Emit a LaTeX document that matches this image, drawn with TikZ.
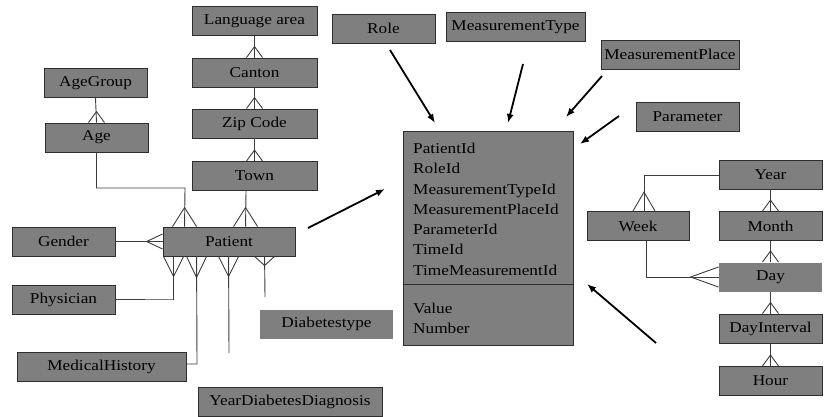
\documentclass[tikz,border=0pt]{standalone}
\usepackage{fontspec}
\setmainfont{Liberation Serif}[FakeStretch=1.15]
\usetikzlibrary{arrows.meta}
\definecolor{boxgrey}{HTML}{7F7F7F}
\definecolor{edgegrey}{HTML}{2E2E2E}
\definecolor{linkgrey}{HTML}{3C3C3C}
\tikzset{
  entity/.style={rectangle, fill=boxgrey, draw=edgegrey, line width=0.9pt,
    minimum height=29pt, inner sep=0pt, font=\fontsize{15}{18}\selectfont},
  bare/.style={entity, draw=none},
  field/.style={anchor=base west, inner sep=0pt, font=\fontsize{15}{18}\selectfont},
  link/.style={draw=linkgrey, line width=0.9pt},
  feed/.style={draw=black, line width=1.8pt, -{Latex[length=9pt,width=7pt]}},
}
\begin{document}
\begin{tikzpicture}[x=1pt,y=-1pt]
  \useasboundingbox (0,0) rectangle (829,417);
  % location and age dimensions
  \node[entity, minimum width=125pt] (lang) at (254.5,21) {Language area};
  \node[entity, minimum width=125pt] (canton) at (254.5,72.5) {Canton};
  \node[entity, minimum width=125pt] (zip) at (254.5,123.5) {Zip Code};
  \node[entity, minimum width=125pt] (town) at (254.5,176) {Town};
  \node[entity, minimum width=103pt] (agegroup) at (95.5,83) {AgeGroup};
  \node[entity, minimum width=103pt] (age) at (96.5,137.5) {Age};
  % patient dimension
  \node[entity, minimum width=132pt] (patient) at (229,241.5) {Patient};
  \node[entity, minimum width=103pt] (gender) at (63.5,241.5) {Gender};
  \node[entity, minimum width=103pt] (physician) at (63.5,300) {Physician};
  \node[entity, minimum width=169pt] (medhist) at (101.5,367) {MedicalHistory};
  \node[entity, minimum width=184pt] (yeardiag) at (290,401.5) {YearDiabetesDiagnosis};
  \node[bare, minimum width=133pt] (dtype) at (326.5,324) {Diabetestype};
  % measurement dimensions
  \node[entity, minimum width=103pt] (role) at (383.5,28.5) {Role};
  \node[entity, minimum width=139pt] (mtype) at (515.5,27) {MeasurementType};
  \node[entity, minimum width=138pt] (mplace) at (670,54.5) {MeasurementPlace};
  \node[entity, minimum width=103pt] (param) at (687.5,116.5) {Parameter};
  % fact table
  \node[entity, minimum width=170pt, minimum height=214pt] (fact) at (488,238) {};
  \draw[draw=edgegrey, line width=0.9pt] (fact.west |- 0,284) -- (fact.east |- 0,284);
  \foreach \f [count=\i] in {PatientId,RoleId,MeasurementTypeId,MeasurementPlaceId,ParameterId,TimeId,TimeMeasurementId}
    \node[field] (key\i) at (413,{153.5+20.25*(\i-1)}) {\f};
  \node[field] (value) at (413,313.5) {Value};
  \node[field] (number) at (413,333.5) {Number};
  % time dimension
  \node[entity, minimum width=103pt] (year) at (770.5,174.5) {Year};
  \node[entity, minimum width=103pt] (month) at (770.5,226) {Month};
  \node[bare, minimum width=103pt] (day) at (770.5,277) {Day};
  \node[entity, minimum width=103pt] (dayint) at (770.5,328.5) {DayInterval};
  \node[entity, minimum width=103pt] (hour) at (770.5,381) {Hour};
  \node[entity, minimum width=102pt] (week) at (638,226) {Week};

  % hierarchies with crow's feet
  \foreach \a/\b in {lang/canton, canton/zip, zip/town, agegroup/age, year/month, month/day, day/dayint, dayint/hour} {
    \draw[link] (\a.south) -- (\b.north);
    \draw[link] ([xshift=-8pt]\b.north) -- ([yshift=11pt]\b.north) -- ([xshift=8pt]\b.north);
  }
  \coordinate (agebend) at (185,188);
  \draw[link] (age.south) |- (agebend) -- ([xshift=22pt]patient.north west);
  \draw[link] ([xshift=-12pt,xshift=22pt]patient.north west) -- ([xshift=22pt,yshift=19pt]patient.north west)
    -- ([xshift=34pt]patient.north west);
  \draw[link] ([xshift=-8.5pt]town.south) -- ([xshift=83pt]patient.north west);
  \draw[link] ([xshift=71pt]patient.north west) -- ([xshift=83pt,yshift=19pt]patient.north west)
    -- ([xshift=95pt]patient.north west);
  \draw[link] (gender.east) -- (patient.west);
  \draw[link] ([yshift=7.5pt]patient.west) -- ([xshift=-16pt]patient.west) -- ([yshift=-7.5pt]patient.west);
  % patient attributes below
  \coordinate (physbend) at (174,299);
  \draw[link] ([xshift=11pt]patient.south west) |- (physbend) -- (physician.east |- physbend);
  \draw[link] ([xshift=1pt]patient.south west) -- ([xshift=11pt,yshift=-20pt]patient.south west)
    -- ([xshift=21pt]patient.south west);
  \coordinate (medbend) at (197,364);
  \draw[link] ([xshift=34pt]patient.south west) -- (medbend) -- (medhist.east |- medbend);
  \draw[link] ([xshift=24pt]patient.south west) -- ([xshift=34pt,yshift=-21pt]patient.south west)
    -- ([xshift=44pt]patient.south west);
  \coordinate (diagend) at (229,353);
  \draw[link] ([xshift=66pt]patient.south west) -- (diagend);
  \draw[link] ([xshift=56pt]patient.south west) -- ([xshift=66pt,yshift=-20pt]patient.south west)
    -- ([xshift=76pt]patient.south west);
  \coordinate (dtypeend) at (265,297);
  \draw[link] ([xshift=102pt]patient.south west) -- (dtypeend);
  \draw[link] ([xshift=92pt]patient.south west) -- ([xshift=102pt,yshift=-9pt]patient.south west)
    -- ([xshift=112pt]patient.south west);
  % week
  \coordinate (yearbend) at (644,175);
  \draw[link] (year.west |- yearbend) -- (yearbend) -- (week.north -| yearbend);
  \draw[link] ([xshift=-11pt]week.north -| yearbend) -- ([yshift=19pt]week.north -| yearbend)
    -- ([xshift=11pt]week.north -| yearbend);
  \coordinate (weekbend) at (646,277);
  \draw[link] (week.south -| weekbend) -- (weekbend) -- (day.west);
  \draw[link] ([yshift=10pt]day.west) -- ([xshift=-28pt]day.west) -- ([yshift=-10pt]day.west);

  % arrows towards the fact table
  \coordinate (p1) at (308,228); \coordinate (q1) at (385,189);
  \coordinate (p2) at (390,50);  \coordinate (q2) at (435,123);
  \coordinate (p3) at (523,64);  \coordinate (q3) at (508,123);
  \coordinate (p4) at (602,76);  \coordinate (q4) at (566,117);
  \coordinate (p5) at (619,116); \coordinate (q5) at (580,144);
  \coordinate (p6) at (656,343); \coordinate (q6) at (587,284);
  \foreach \i in {1,...,6}
    \draw[feed] (p\i) -- (q\i);
\end{tikzpicture}
\end{document}
